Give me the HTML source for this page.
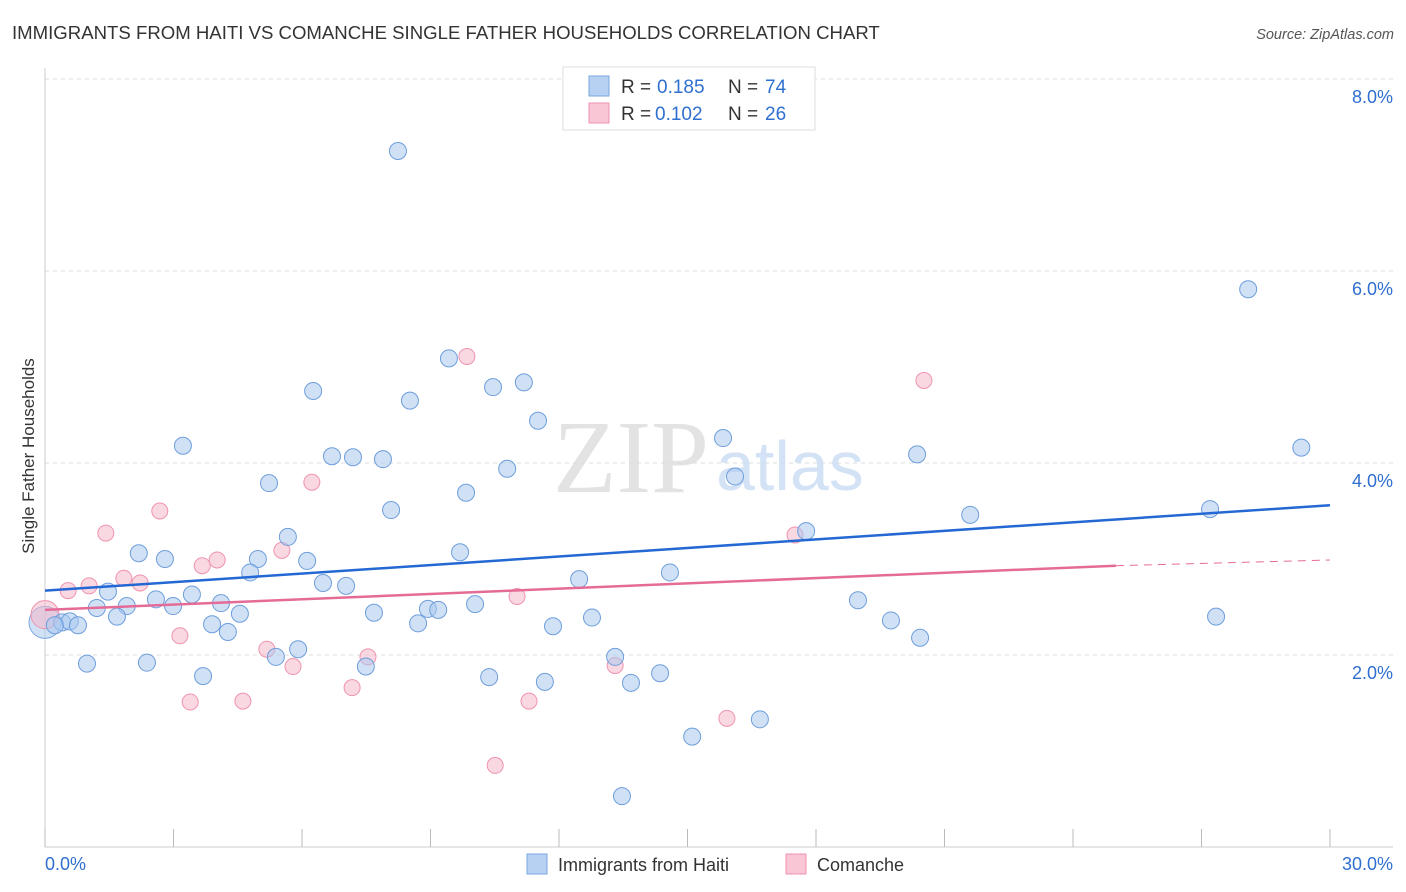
<!DOCTYPE html>
<html><head><meta charset="utf-8"><style>
body{margin:0;background:#fff;font-family:"Liberation Sans",sans-serif;}
svg{display:block}
</style></head><body>
<svg id="chart" width="1406" height="892">
<text x="12" y="39" font-size="18.6" fill="#333">IMMIGRANTS FROM HAITI VS COMANCHE SINGLE FATHER HOUSEHOLDS CORRELATION CHART</text>
<text x="1394" y="39" font-size="14.5" fill="#555" font-style="italic" text-anchor="end">Source: ZipAtlas.com</text>
<text x="0" y="0" transform="translate(34,456) rotate(-90)" font-size="17" fill="#333" text-anchor="middle">Single Father Households</text>
<g id="grid"></g>
<text x="553" y="492" font-size="104" fill="#ddd" font-family="Liberation Serif" opacity="0.8">ZIP</text>
<text x="716" y="490" font-size="70" fill="#c9dcf3" opacity="0.8">atlas</text>
<g id="marks"></g>
<g>
<rect x="563" y="67" width="252" height="63" fill="#fff" stroke="#ddd"/>
<rect x="589" y="76" width="20" height="20" fill="#b7d1f2" stroke="#7aa6e0"/>
<text y="93" font-size="19" fill="#333"><tspan x="621">R =</tspan><tspan x="657" fill="#2f6fd0">0.185</tspan><tspan x="728">N =</tspan><tspan x="765" fill="#2f6fd0">74</tspan></text>
<rect x="589" y="103" width="20" height="20" fill="#f8c6d5" stroke="#ef93ae"/>
<text y="120" font-size="19" fill="#333"><tspan x="621">R =</tspan><tspan x="655" fill="#2f6fd0">0.102</tspan><tspan x="728">N =</tspan><tspan x="765" fill="#2f6fd0">26</tspan></text>
</g>
<rect x="527" y="854" width="20" height="20" fill="#b7d1f2" stroke="#7aa6e0"/>
<text x="558" y="871" font-size="18" fill="#333">Immigrants from Haiti</text>
<rect x="786" y="854" width="20" height="20" fill="#f8c6d5" stroke="#ef93ae"/>
<text x="817" y="871" font-size="18" fill="#333">Comanche</text>
</svg>
<script>
const blueX=[8.24,28.09,9.43,6.26,10.46,11.18,8.52,11.51,3.22,15.83,29.33,6.70,7.19,7.89,20.36,10.79,16.11,5.23,9.83,8.08,21.60,27.20,17.77,5.67,2.19,2.80,4.97,6.12,9.69,4.79,14.59,12.47,6.49,7.03,1.47,3.43,2.59,2.99,1.91,1.21,4.11,10.04,18.98,4.55,7.68,8.94,9.18,1.68,12.77,0.40,0.58,0.23,0.77,19.75,27.34,3.90,8.71,11.86,4.27,20.43,5.91,5.39,13.31,0.98,2.38,7.49,3.69,10.37,11.67,13.68,14.36,16.69,15.11,13.47];
const blueY=[7.25,5.81,5.09,4.75,4.79,4.84,4.65,4.44,4.18,4.26,4.16,4.07,4.06,4.04,4.09,3.94,3.86,3.79,3.69,3.51,3.46,3.52,3.29,3.23,3.06,3.00,3.00,2.98,3.07,2.86,2.86,2.79,2.75,2.72,2.66,2.63,2.58,2.51,2.51,2.49,2.54,2.53,2.57,2.43,2.44,2.48,2.47,2.40,2.39,2.34,2.35,2.31,2.31,2.36,2.40,2.32,2.33,2.30,2.24,2.18,2.06,1.98,1.98,1.91,1.92,1.88,1.78,1.77,1.72,1.71,1.81,1.33,1.15,0.53];
const pinkX=[9.85,20.52,6.23,2.68,1.42,5.53,4.02,3.67,1.84,2.22,1.03,0.54,11.02,3.15,5.18,7.54,5.79,13.31,7.17,3.39,4.62,11.30,15.92,10.51,17.51];
const pinkY=[5.11,4.86,3.80,3.50,3.27,3.09,2.99,2.93,2.80,2.75,2.72,2.67,2.61,2.20,2.06,1.98,1.88,1.89,1.66,1.51,1.52,1.52,1.34,0.85,3.25];
const bigBlue=[0,2.34], bigPink=[0,2.42];
const blueTrend=[[0,2.67],[30,3.56]];
const pinkTrend=[[0,2.47],[25,2.93],[30,2.99]];
const yTicks=[2,4,6,8];
const yTickLabels=["2.0%","4.0%","6.0%","8.0%"];
const xTicks=[0,3,6,9,12,15,18,21,24,27,30];
const xEndLabels=["0.0%","30.0%"];

const NS="http://www.w3.org/2000/svg";
const sx=v=>45+v/30*1285, sy=v=>847-v*96;
function mk(p,t,a){const e=document.createElementNS(NS,t);for(const k in a)e.setAttribute(k,a[k]);p.appendChild(e);return e;}
const grid=document.getElementById('grid'), marks=document.getElementById('marks');
yTicks.forEach((v,i)=>{
 const l=mk(grid,'line',{x1:45,x2:1393,y1:sy(v),y2:sy(v),stroke:'#ddd','stroke-dasharray':'4,4'});
 
 
 const t=mk(grid,'text',{x:1393,y:sy(v)+24,'font-size':18,fill:'#2f6fd0','text-anchor':'end'});
 t.textContent=yTickLabels[i];
 
 
});
const tg=mk(grid,'line',{x1:45,x2:1393,y1:79,y2:79,stroke:'#ddd','stroke-dasharray':'4,4'});
const ya=mk(grid,'line',{x1:45,x2:45,y1:68,y2:847,stroke:'#ccc'});


const xa=mk(grid,'line',{x1:45,x2:1393,y1:847,y2:847,stroke:'#ccc'});


xTicks.forEach(v=>{
 const l=mk(grid,'line',{x1:sx(v),x2:sx(v),y1:829,y2:847,stroke:'#bbb'});
 
 
});
[[0,'start',45],[30,'end',1393]].forEach((d,i)=>{
 const t=mk(grid,'text',{x:d[2],y:870,'font-size':18,fill:'#2f6fd0','text-anchor':d[1]});
 t.textContent=xEndLabels[i];
 
 
});
function dot(x,y,r,fill,stroke,name){
 const c=mk(marks,'circle',{cx:sx(x),cy:sy(y),r:r,fill:fill,'fill-opacity':0.55,stroke:stroke,'stroke-width':1});
 
 
}
dot(bigBlue[0],bigBlue[1],16,'#a9c8ef','#7aa6e0','haiti-point-large');
dot(bigPink[0],bigPink[1],14,'#f6b8cb','#ef93ae','comanche-point-large');
pinkX.forEach((x,i)=>dot(x,pinkY[i],8,'#f6b8cb','#ef93ae','comanche-point'));
blueX.forEach((x,i)=>dot(x,blueY[i],8.5,'#a9c8ef','#6e9edc','haiti-point'));
const bl=mk(marks,'line',{x1:sx(blueTrend[0][0]),y1:sy(blueTrend[0][1]),x2:sx(blueTrend[1][0]),y2:sy(blueTrend[1][1]),stroke:'#2468d4','stroke-width':2.5});


const pl=mk(marks,'line',{x1:sx(pinkTrend[0][0]),y1:sy(pinkTrend[0][1]),x2:sx(pinkTrend[1][0]),y2:sy(pinkTrend[1][1]),stroke:'#e56b97','stroke-width':2.5});


const pd=mk(marks,'line',{x1:sx(pinkTrend[1][0]),y1:sy(pinkTrend[1][1]),x2:sx(pinkTrend[2][0]),y2:sy(pinkTrend[2][1]),stroke:'#e56b97','stroke-width':1,'stroke-dasharray':'8,6'});


</script>
</body></html>
